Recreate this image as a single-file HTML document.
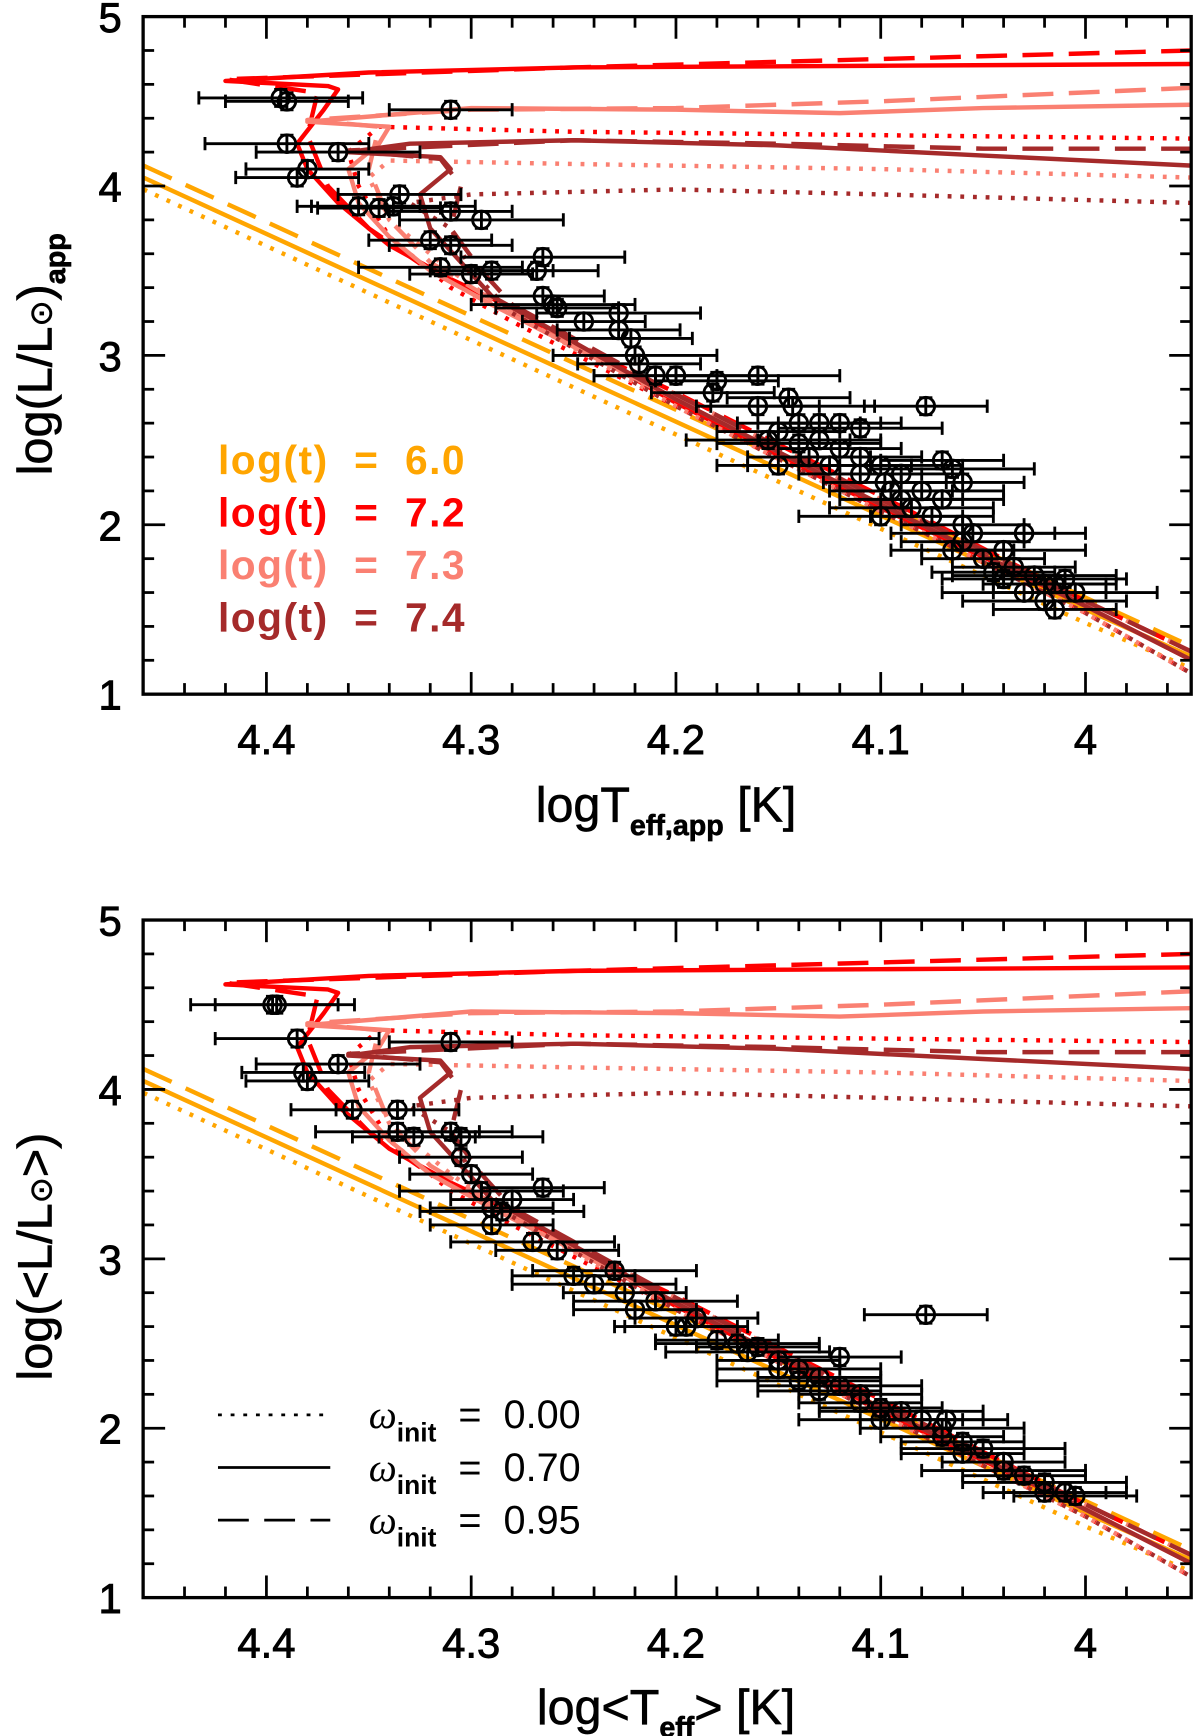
<!DOCTYPE html>
<html><head><meta charset="utf-8"><style>
html,body{margin:0;padding:0;background:#fff}
svg{display:block}
text{font-family:"Liberation Sans",sans-serif;fill:#000}
</style></head><body>
<svg id="chart" width="1200" height="1736" viewBox="0 0 1090 1568" preserveAspectRatio="none" xmlns="http://www.w3.org/2000/svg"></svg>
<script>
// ---- data ----
const xTicks=[4.4,4.3,4.2,4.1,4.0];
const xTickLabels=["4.4","4.3","4.2","4.1","4"];
const yTicks=[1,2,3,4,5];
const yTickLabels=["1","2","3","4","5"];
const ageLabels=["log(t)  =  6.0","log(t)  =  7.2","log(t)  =  7.3","log(t)  =  7.4"];
const ageColors=["#FFA500","#FF0000","#FA8072","#A52A2A"];
const omegaLabels=["0.00","0.70","0.95"];
// isochrones
const orT=[4.46,4.0,3.948];
const orLsolid=[4.05,1.5,1.22], orLdash=[4.12,1.57,1.28], orLdot=[3.98,1.42,1.15];
const rdT_s=[3.948,4.1,4.25,4.35,4.42,4.37,4.365,4.372,4.385,4.38,4.365,4.34,4.31,4.28,4.2,4.1,4.0,3.948];
const rdL_s=[4.72,4.71,4.70,4.67,4.62,4.59,4.57,4.45,4.25,4.1,3.9,3.65,3.45,3.28,2.72,2.1,1.52,1.2];
const rdT_d=[3.948,4.1,4.25,4.42,4.375,4.38,4.37,4.35,4.32,4.29,4.2,4.1,4.0,3.948];
const rdL_d=[4.8,4.75,4.7,4.63,4.55,4.3,4.0,3.75,3.5,3.3,2.78,2.17,1.55,1.25];
const rdT_o=[3.948,4.1,4.25,4.345,4.36,4.355,4.34,4.31,4.28,4.2,4.1,4.0,3.948];
const rdL_o=[4.28,4.3,4.32,4.35,4.2,4.0,3.7,3.4,3.2,2.7,2.08,1.48,1.12];
const pkT_s=[3.948,4.05,4.12,4.2,4.3,4.38,4.34,4.345,4.36,4.355,4.34,4.32,4.29,4.2,4.1,4.0,3.948];
const pkL_s=[4.48,4.46,4.43,4.45,4.46,4.38,4.35,4.25,4.1,3.9,3.7,3.5,3.3,2.74,2.12,1.52,1.2];
const pkT_d=[3.948,4.1,4.2,4.3,4.38,4.345,4.35,4.34,4.32,4.29,4.2,4.1,4.0,3.948];
const pkL_d=[4.58,4.5,4.46,4.45,4.39,4.35,4.1,3.8,3.55,3.33,2.77,2.15,1.55,1.25];
const pkT_o=[3.948,4.1,4.25,4.34,4.35,4.34,4.31,4.28,4.2,4.1,4.0,3.948];
const pkL_o=[4.05,4.1,4.13,4.15,4.05,3.8,3.5,3.25,2.7,2.08,1.48,1.12];
const drT_s=[3.948,4.05,4.15,4.25,4.33,4.36,4.315,4.31,4.325,4.32,4.305,4.29,4.2,4.1,4.0,3.948];
const drL_s=[4.12,4.18,4.24,4.27,4.25,4.2,4.17,4.1,3.95,3.75,3.55,3.35,2.74,2.12,1.52,1.2];
const drT_d=[3.948,4.05,4.15,4.25,4.36,4.315,4.305,4.31,4.295,4.28,4.2,4.1,4.0,3.948];
const drL_d=[4.22,4.22,4.25,4.27,4.21,4.16,4.0,3.75,3.5,3.3,2.77,2.15,1.55,1.25];
const drT_o=[3.948,4.1,4.2,4.3,4.33,4.31,4.3,4.28,4.2,4.1,4.0,3.948];
const drL_o=[3.9,3.95,3.98,3.95,3.9,3.75,3.5,3.25,2.7,2.08,1.48,1.12];
// observations top
const topT=[4.393,4.39,4.31,4.39,4.385,4.38,4.365,4.355,4.345,4.338,4.335,4.31,4.295,4.32,4.31,4.315,4.3,4.29,4.265,4.268,4.265,4.26,4.258,4.245,4.228,4.228,4.222,4.22,4.218,4.21,4.2,4.18,4.182,4.16,4.16,4.145,4.143,4.14,4.15,4.155,4.13,4.12,4.11,4.13,4.135,4.125,4.12,4.11,4.1,4.098,4.09,4.08,4.078,4.07,4.065,4.06,4.07,4.085,4.075,4.06,4.055,4.065,4.05,4.04,4.03,4.035,4.025,4.02,4.015,4.03,4.04,4.045,4.02,4.015,4.11,4.14,4.15,4.09,4.1,4.095,4.01,4.005,4.06];
const topL=[4.52,4.5,4.45,4.25,4.05,4.1,4.2,3.88,3.87,3.88,3.95,3.85,3.8,3.68,3.65,3.52,3.48,3.5,3.58,3.5,3.35,3.3,3.28,3.2,3.25,3.15,3.1,3.0,2.95,2.88,2.88,2.85,2.78,2.88,2.7,2.75,2.7,2.6,2.55,2.5,2.6,2.6,2.57,2.5,2.4,2.35,2.45,2.3,2.35,2.25,2.3,2.2,2.7,2.38,2.33,2.25,2.15,2.1,2.05,2.0,1.95,1.85,1.8,1.85,1.95,1.75,1.7,1.65,1.65,1.6,1.68,1.72,1.55,1.5,2.4,2.48,2.35,2.15,2.05,2.2,1.68,1.6,1.9];
// observations bottom
const botT=[4.397,4.395,4.31,4.385,4.382,4.38,4.365,4.358,4.336,4.336,4.328,4.31,4.305,4.305,4.3,4.295,4.29,4.29,4.285,4.28,4.265,4.27,4.258,4.25,4.23,4.225,4.22,4.21,4.2,4.19,4.17,4.16,4.15,4.14,4.13,4.12,4.12,4.11,4.1,4.09,4.08,4.078,4.07,4.068,4.06,4.05,4.04,4.03,4.02,4.01,4.005,4.1,4.11,4.13,4.14,4.07,4.06,4.04,4.02,4.15,4.165,4.18,4.195,4.24];
const botL=[4.5,4.5,4.28,4.3,4.1,4.05,4.15,3.88,3.88,3.75,3.72,3.75,3.72,3.6,3.5,3.4,3.3,3.2,3.28,3.35,3.42,3.1,3.05,2.9,2.93,2.8,2.7,2.75,2.6,2.65,2.5,2.48,2.4,2.35,2.3,2.42,2.25,2.2,2.12,2.1,2.05,2.67,2.0,2.05,1.92,1.88,1.8,1.72,1.68,1.62,1.6,2.05,2.15,2.22,2.28,1.95,1.85,1.75,1.62,2.35,2.45,2.52,2.6,2.85];

// ---- rendering ----
const NS="http://www.w3.org/2000/svg";
const svg=document.getElementById('chart');
function mk(tag,attrs,parent){const e=document.createElementNS(NS,tag);for(const k in attrs)e.setAttribute(k,attrs[k]);(parent||svg).appendChild(e);return e;}
const X0=130,X1=1082;
function xs(t){return 242+(4.4-t)*1860;}
const panels=[{top:15,bot:627,T:topT,L:topL,name:'top'},{top:831,bot:1443,T:botT,L:botL,name:'bottom'}];
const styles={s:"",d:"28,14",o:"3.5,8"};
function drawPanel(p){
  const g=mk('g',{});
  
  
  const ys=l=>p.bot-(l-1)*(p.bot-p.top)/4;
  const clipId='clip'+p.name;
  const cp=mk('clipPath',{id:clipId},g);mk('rect',{x:X0,y:p.top,width:X1-X0,height:p.bot-p.top},cp);
  const curves=mk('g',{'clip-path':'url(#'+clipId+')'},g);
  
  
  const sets=[
    [orT,orLsolid,0,'s'],[orT,orLdash,0,'d'],[orT,orLdot,0,'o'],
    [rdT_s,rdL_s,1,'s'],[rdT_d,rdL_d,1,'d'],[rdT_o,rdL_o,1,'o'],
    [pkT_s,pkL_s,2,'s'],[pkT_d,pkL_d,2,'d'],[pkT_o,pkL_o,2,'o'],
    [drT_s,drL_s,3,'s'],[drT_d,drL_d,3,'d'],[drT_o,drL_o,3,'o']];
  sets.forEach(([T,L,c,st])=>{
    const d=T.map((t,i)=>(i?'L':'M')+xs(t).toFixed(1)+' '+ys(L[i]).toFixed(1)).join(' ');
    const path=mk('path',{d:d,fill:'none',stroke:ageColors[c],'stroke-width':4,'stroke-dasharray':styles[st],'stroke-linejoin':'round'},curves);
    
    
  });
  const pts=mk('g',{'clip-path':'url(#'+clipId+')',stroke:'#000','stroke-width':2.6,fill:'none'},g);
  
  
  p.T.forEach((t,i)=>{
    const cx=xs(t),cy=ys(p.L[i]);
    const sg=mk('g',{},pts);
    
    
    const ex=(i%3==0)?0.04:0.03, ey=0.05;
    mk('line',{x1:xs(t+ex),x2:xs(t-ex),y1:cy,y2:cy},sg);
    mk('line',{x1:cx,x2:cx,y1:ys(p.L[i]+ey),y2:ys(p.L[i]-ey)},sg);
    mk('line',{x1:xs(t+ex),x2:xs(t+ex),y1:cy-6,y2:cy+6},sg);
    mk('line',{x1:xs(t-ex),x2:xs(t-ex),y1:cy-6,y2:cy+6},sg);
    mk('line',{x1:cx-6,x2:cx+6,y1:ys(p.L[i]+ey),y2:ys(p.L[i]+ey)},sg);
    mk('line',{x1:cx-6,x2:cx+6,y1:ys(p.L[i]-ey),y2:ys(p.L[i]-ey)},sg);
    mk('circle',{cx:cx,cy:cy,r:8},sg);
  });
  const fr=mk('rect',{x:X0,y:p.top,width:X1-X0,height:p.bot-p.top,fill:'none',stroke:'#000','stroke-width':3},g);
  
  
  const ax=mk('g',{stroke:'#000','stroke-width':2.5},g);
  for(let k=0;k<=26;k++){const t=4.46-k*0.02;const x=xs(t);if(x<X0+1||x>X1-1)continue;
    const major=Math.abs(Math.round(t*10)-t*10)<1e-6;const len=major?20:10;
    mk('line',{x1:x,x2:x,y1:p.bot,y2:p.bot-len},ax);mk('line',{x1:x,x2:x,y1:p.top,y2:p.top+len},ax);}
  for(let k=1;k<20;k++){const l=1+k*0.2;const y=ys(l);const major=k%5==0;const len=major?20:10;
    mk('line',{x1:X0,x2:X0+len,y1:y,y2:y},ax);mk('line',{x1:X1,x2:X1-len,y1:y,y2:y},ax);}
  xTicks.forEach((t,i)=>{const tx=mk('text',{x:xs(t),y:p.bot+54,'text-anchor':'middle','font-size':38,stroke:'#000','stroke-width':0.8},g);tx.textContent=xTickLabels[i];
    });
  yTicks.forEach((l,i)=>{const tx=mk('text',{x:100,y:ys(l)+14,'text-anchor':'middle','font-size':38,stroke:'#000','stroke-width':0.8},g);tx.textContent=yTickLabels[i];
    });
  return ys;
}
drawPanel(panels[0]);
drawPanel(panels[1]);
function txt(html,attrs,name){const t=mk('text',attrs);t.innerHTML=html;return t;}
txt('logT<tspan font-size="26" font-weight="bold" dy="12">eff,app</tspan><tspan dy="-12"> [K]</tspan>',{x:605,y:742,'text-anchor':'middle','font-size':44,stroke:'#000','stroke-width':0.6},'x-axis-title-top');
txt('log&lt;T<tspan font-size="26" font-weight="bold" dy="12">eff</tspan><tspan dy="-12">&gt; [K]</tspan>',{x:605,y:1557,'text-anchor':'middle','font-size':44,stroke:'#000','stroke-width':0.6},'x-axis-title-bottom');
txt('log(L/L<tspan font-size="28">⊙</tspan>)<tspan font-size="26" font-weight="bold" dy="12">app</tspan>',{x:0,y:0,'text-anchor':'middle','font-size':44,stroke:'#000','stroke-width':0.6,transform:'translate(47,320) rotate(-90)'},'y-axis-title-top');
txt('log(&lt;L/L<tspan font-size="28">⊙</tspan>&gt;)',{x:0,y:0,'text-anchor':'middle','font-size':44,stroke:'#000','stroke-width':0.6,transform:'translate(47,1135) rotate(-90)'},'y-axis-title-bottom');
ageLabels.forEach((s,i)=>{txt(s,{x:198,y:428+i*47.5,'font-size':37,'font-weight':'bold','textLength':224,style:'fill:'+ageColors[i]+';white-space:pre'},'legend-entry-age');});
omegaLabels.forEach((s,i)=>{const y=1278+i*47.5;
  const ln=mk('line',{x1:198,x2:300,y1:y,y2:y,stroke:'#000','stroke-width':2.5,'stroke-dasharray':[styles.o,styles.s,styles.d][i]});
  
  txt('<tspan font-style="italic" font-family="Liberation Serif">ω</tspan><tspan font-size="24" font-weight="bold" dy="12">init</tspan><tspan dy="-12">  =  '+s+'</tspan>',{x:335,y:y+12,'font-size':36,style:'white-space:pre'},'legend-entry-omega');
});
</script>
</body></html>
